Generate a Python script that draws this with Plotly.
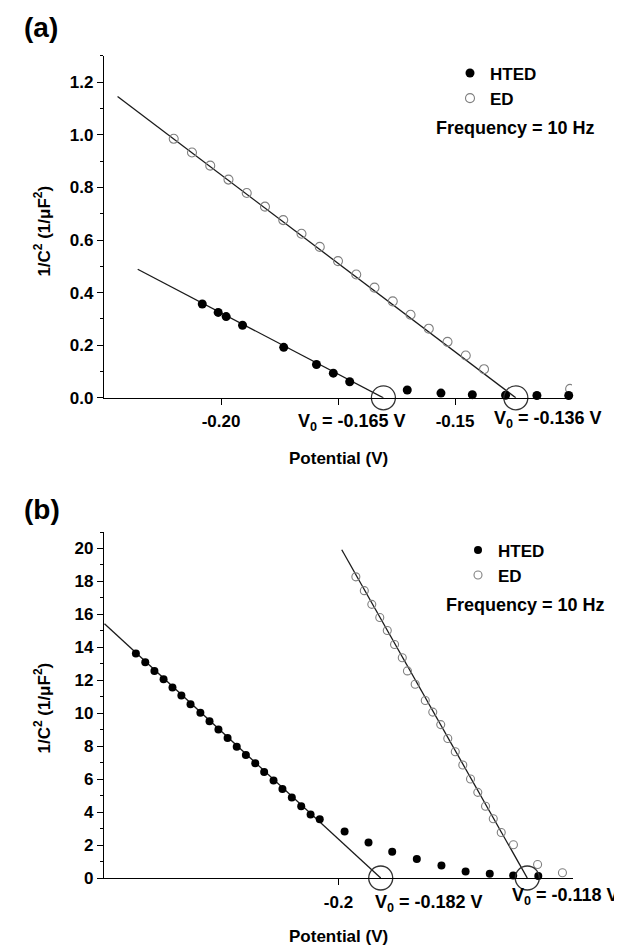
import plotly.graph_objects as go

W, H = 622, 948

# ---------------- Panel (a) data ----------------
a_hted_x = [-0.2040, -0.2006, -0.1989, -0.1954, -0.1866, -0.1796, -0.1760, -0.1725,
            -0.1602, -0.1530, -0.1463, -0.1392, -0.1325, -0.1257]
a_hted_y = [0.357, 0.325, 0.309, 0.276, 0.192, 0.127, 0.094, 0.061,
            0.030, 0.018, 0.012, 0.010, 0.009, 0.009]
a_ed_x = [-0.2101, -0.2062, -0.2023, -0.1984, -0.1945, -0.1906, -0.1867, -0.1828,
          -0.1789, -0.1750, -0.1711, -0.1672, -0.1633, -0.1595, -0.1556, -0.1516,
          -0.1477, -0.1438, -0.1254]
a_ed_y = [0.985, 0.933, 0.883, 0.830, 0.779, 0.727, 0.676, 0.624,
          0.574, 0.520, 0.469, 0.419, 0.367, 0.316, 0.263, 0.213,
          0.161, 0.109, 0.034]
a_fit_hted_x = [-0.2178, -0.1653]
a_fit_hted_y = [0.489, 0.0]
a_fit_ed_x = [-0.2221, -0.1370]
a_fit_ed_y = [1.146, 0.0]
a_v0 = [-0.1653, -0.1370]
a_v0_labels = ["-0.165", "-0.136"]

# ---------------- Panel (b) data ----------------
b_hted_x = [-0.2864, -0.2824, -0.2785, -0.2746, -0.2708, -0.2670, -0.2631, -0.2589,
            -0.2550, -0.2512, -0.2473, -0.2434, -0.2395, -0.2355, -0.2317, -0.2277,
            -0.2239, -0.2199, -0.2159, -0.2119, -0.2080,
            -0.1974, -0.1872, -0.1771, -0.1666, -0.1561, -0.1458, -0.1355, -0.1255, -0.1148]
b_hted_y = [13.63, 13.09, 12.57, 12.07, 11.57, 11.07, 10.55, 10.03,
            9.51, 9.01, 8.50, 7.96, 7.47, 6.97, 6.44, 5.92,
            5.41, 4.88, 4.36, 3.86, 3.56,
            2.82, 2.16, 1.60, 1.16, 0.76, 0.40, 0.26, 0.16, 0.12]
b_ed_x = [-0.1926, -0.1890, -0.1858, -0.1824, -0.1792, -0.1761, -0.1728, -0.1706,
          -0.1673, -0.1630, -0.1598, -0.1564, -0.1534, -0.1502, -0.1470, -0.1437,
          -0.1406, -0.1373, -0.1340, -0.1306, -0.1254, -0.1151, -0.1045]
b_ed_y = [18.28, 17.44, 16.61, 15.81, 15.02, 14.17, 13.37, 12.57,
          11.76, 10.77, 10.07, 9.31, 8.47, 7.66, 6.86, 6.01,
          5.20, 4.36, 3.60, 2.76, 2.02, 0.82, 0.32]
b_fit_hted_x = [-0.2998, -0.1820]
b_fit_hted_y = [15.43, 0.0]
b_fit_ed_x = [-0.1986, -0.1195]
b_fit_ed_y = [19.92, 0.0]
b_v0 = [-0.1820, -0.1195]
b_v0_labels = ["-0.182", "-0.118"]


def px(x):
    return x / W


def py(y):
    return 1 - y / H


FONT = "Liberation Sans, Arial, sans-serif"
fig = go.Figure()


def add_panel(xa, ya, leg, hx, hy, ex, ey, fhx, fhy, fex, fey, v0, msize):
    fig.add_trace(go.Scatter(x=fhx, y=fhy, mode="lines", xaxis=xa, yaxis=ya,
                             line=dict(color="#1a1a1a", width=1.3),
                             showlegend=False, hoverinfo="skip", cliponaxis=False))
    fig.add_trace(go.Scatter(x=fex, y=fey, mode="lines", xaxis=xa, yaxis=ya,
                             line=dict(color="#1a1a1a", width=1.3),
                             showlegend=False, hoverinfo="skip", cliponaxis=False))
    fig.add_trace(go.Scatter(x=ex, y=ey, mode="markers", name="<b>ED</b>", xaxis=xa, yaxis=ya,
                             marker=dict(symbol="circle-open", size=msize, color="#808080",
                                         line=dict(width=1.1, color="#808080")),
                             legend=leg, cliponaxis=True))
    fig.add_trace(go.Scatter(x=hx, y=hy, mode="markers", name="<b>HTED</b>", xaxis=xa, yaxis=ya,
                             marker=dict(symbol="circle", size=msize, color="black"),
                             legend=leg, cliponaxis=False))
    fig.add_trace(go.Scatter(x=v0, y=[0] * len(v0), mode="markers", xaxis=xa, yaxis=ya,
                             marker=dict(symbol="circle-open", size=24, color="#333333",
                                         line=dict(width=1.3, color="#333333")),
                             showlegend=False, hoverinfo="skip", cliponaxis=False))


add_panel("x", "y", "legend", a_hted_x, a_hted_y, a_ed_x, a_ed_y,
          a_fit_hted_x, a_fit_hted_y, a_fit_ed_x, a_fit_ed_y, a_v0, 9)
add_panel("x2", "y2", "legend2", b_hted_x, b_hted_y, b_ed_x, b_ed_y,
          b_fit_hted_x, b_fit_hted_y, b_fit_ed_x, b_fit_ed_y, b_v0, 8)

tickfont = dict(family=FONT, size=17, color="black")
axis_common = dict(showline=True, linecolor="black", linewidth=1.3, ticks="outside",
                   tickcolor="black", tickwidth=1.2, ticklen=6, showgrid=False,
                   zeroline=False, tickfont=tickfont)


def bt(vals, fmt):
    return ["<b>" + format(v, fmt) + "</b>" for v in vals]


a_yticks = [0, 0.2, 0.4, 0.6, 0.8, 1.0, 1.2]
a_xticks = [-0.20, -0.15]
b_yticks = list(range(0, 21, 2))
b_xticks = [-0.2]

fig.update_layout(
    width=W, height=H, margin=dict(l=0, r=0, t=0, b=0),
    paper_bgcolor="white", plot_bgcolor="white",
    font=dict(family=FONT, color="black"),
    xaxis=dict(domain=[px(96), px(564)], anchor="y", range=[-0.225, -0.125],
               tickvals=a_xticks, ticktext=bt(a_xticks, ".2f"),
               minor=dict(tickvals=[-0.175], ticks="outside", ticklen=6, tickcolor="black"),
               ticklabelstandoff=2, **axis_common),
    yaxis=dict(domain=[py(394), py(48.5)], anchor="x", range=[0, 1.3],
               tickvals=a_yticks, ticktext=bt(a_yticks, ".1f"),
               minor=dict(dtick=0.1, ticks="outside", ticklen=3, tickcolor="black"),
               **axis_common),
    xaxis2=dict(domain=[px(96), px(565)], anchor="y2", range=[-0.30, -0.10],
                tickvals=b_xticks, ticktext=bt(b_xticks, ".1f"), ticklabelstandoff=2,
                **axis_common),
    yaxis2=dict(domain=[py(879.3), py(529.6)], anchor="x2", range=[0, 21],
                tickvals=b_yticks, ticktext=bt(b_yticks, "d"),
                minor=dict(dtick=1, ticks="outside", ticklen=3, tickcolor="black"),
                **axis_common),
    legend=dict(x=px(442), y=py(48), xanchor="left", yanchor="top",
                font=dict(family=FONT, size=17, color="black"),
                bgcolor="rgba(0,0,0,0)", traceorder="reversed", itemsizing="trace"),
    legend2=dict(x=px(450), y=py(530), xanchor="left", yanchor="top",
                 font=dict(family=FONT, size=17, color="black"),
                 bgcolor="rgba(0,0,0,0)", traceorder="reversed", itemsizing="trace"),
)

F17 = dict(family=FONT, size=17, color="black")
F18 = dict(family=FONT, size=18, color="black")
F28 = dict(family=FONT, size=28, color="black")
ytitle = "<b>1/C<sup>2</sup> (1/μF<sup>2</sup>)</b>"
anns = [
    dict(text="<b>(a)</b>", x=px(14), y=py(20), xanchor="left", yanchor="middle", font=F28),
    dict(text="<b>(b)</b>", x=px(14), y=py(507), xanchor="left", yanchor="middle", font=F28),
    dict(text="<b>Frequency = 10 Hz</b>", x=px(507), y=py(121.7), xanchor="center",
         yanchor="middle", font=F18),
    dict(text="<b>Frequency = 10 Hz</b>", x=px(517), y=py(603), xanchor="center",
         yanchor="middle", font=F18),
    dict(text=ytitle, x=px(34), y=py(226), textangle=-90, xanchor="center",
         yanchor="middle", font=F17),
    dict(text=ytitle, x=px(34), y=py(708), textangle=-90, xanchor="center",
         yanchor="middle", font=F17),
    dict(text="<b>Potential (V)</b>", x=px(330), y=py(455), xanchor="center",
         yanchor="middle", font=F17),
    dict(text="<b>Potential (V)</b>", x=px(330), y=py(938), xanchor="center",
         yanchor="middle", font=F17),
    dict(text="<b>V<sub>0</sub> = " + a_v0_labels[0] + " V</b>", x=px(344), y=py(419),
         xanchor="center", yanchor="middle", font=F18),
    dict(text="<b>V<sub>0</sub> = " + a_v0_labels[1] + " V</b>", x=px(540), y=py(416),
         xanchor="center", yanchor="middle", font=F18),
    dict(text="<b>V<sub>0</sub> = " + b_v0_labels[0] + " V</b>", x=px(421), y=py(905),
         xanchor="center", yanchor="middle", font=F18),
    dict(text="<b>V<sub>0</sub> = " + b_v0_labels[1] + " V</b>", x=px(557), y=py(898),
         xanchor="center", yanchor="middle", font=F18),
]
for a in anns:
    a.update(xref="paper", yref="paper", showarrow=False)
fig.update_layout(annotations=anns)

fig.write_html("out.html")
